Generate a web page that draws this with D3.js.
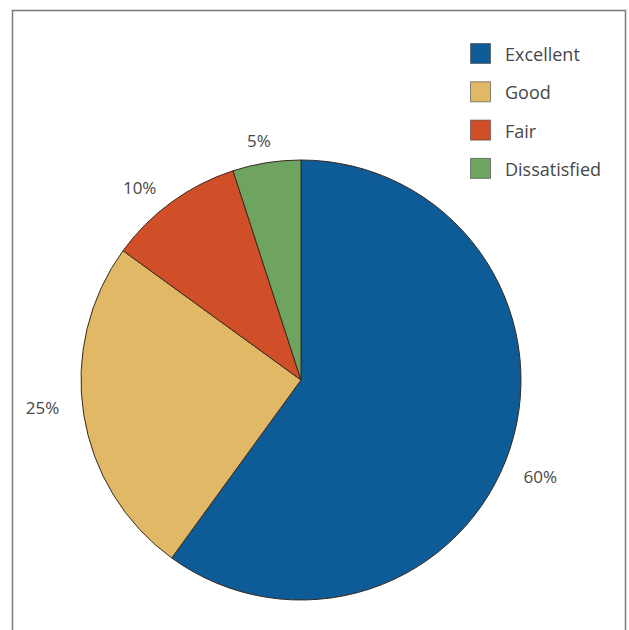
<!DOCTYPE html>
<html>
<head>
<meta charset="utf-8">
<script src="https://cdn.jsdelivr.net/npm/d3@7"></script>
<style>
  html, body { margin: 0; padding: 0; background: #ffffff; }
  svg { display: block; }
  text { font-family: "Open Sans", "DejaVu Sans", sans-serif; fill: #474747; }
</style>
</head>
<body>
<svg id="chart" width="629" height="630"></svg>
<script>
// Satisfaction ratings (percent of respondents)
const categories = ["Excellent", "Good", "Fair", "Dissatisfied"];
const values = [60, 25, 10, 5];
const valueLabels = ["60%", "25%", "10%", "5%"];
const colors = ["#0d5b97", "#e1b866", "#d14f28", "#6fa360"];

// Layout
const W = 629, H = 630;
const cx = 301, cy = 380, radius = 220;
// where each value label sits: angle (deg, clockwise from 12 o'clock) and distance from centre
const labelAngles = [112, 264, 320, 350];
const labelRadii = [258, 260, 251, 243];

const svg = d3.select("#chart");

// outer frame
svg.append("rect")
  .attr("x", 12.5).attr("y", 10.5)
  .attr("width", 613).attr("height", 622)
  .attr("fill", "none")
  .attr("stroke", "#7a7a7a")
  .attr("stroke-width", 1.5);

const data = categories.map((c, i) => ({ category: c, value: values[i], label: valueLabels[i], color: colors[i] }));

const pie = d3.pie().value(d => d.value).sort(null);
const arc = d3.arc().innerRadius(0).outerRadius(radius);

const g = svg.append("g").attr("transform", `translate(${cx},${cy})`);

g.selectAll("path.slice")
  .data(pie(data))
  .join("path")
  .attr("class", "slice")
  .attr("d", arc)
  .attr("fill", d => d.data.color)
  .attr("stroke", "#3a2a20")
  .attr("stroke-width", 1)
  .attr("stroke-linejoin", "round");

// value labels
g.selectAll("text.value")
  .data(data)
  .join("text")
  .attr("class", "value")
  .attr("x", (d, i) => labelRadii[i] * Math.sin(labelAngles[i] * Math.PI / 180))
  .attr("y", (d, i) => -labelRadii[i] * Math.cos(labelAngles[i] * Math.PI / 180))
  .attr("text-anchor", "middle")
  .attr("dominant-baseline", "central")
  .attr("font-size", 17)
  .text(d => d.label);

// legend
const legend = svg.append("g").attr("transform", "translate(470,43)");
const item = legend.selectAll("g.item")
  .data(data)
  .join("g")
  .attr("class", "item")
  .attr("transform", (d, i) => `translate(0,${i * 38.3})`);

item.append("rect")
  .attr("x", 0.5).attr("y", 0.5)
  .attr("width", 20).attr("height", 20)
  .attr("fill", d => d.color)
  .attr("stroke", "#444")
  .attr("stroke-opacity", 0.6)
  .attr("stroke-width", 1);

item.append("text")
  .attr("x", 35)
  .attr("y", 11)
  .attr("dominant-baseline", "central")
  .attr("font-size", 18)
  .text(d => d.category);
</script>
</body>
</html>
